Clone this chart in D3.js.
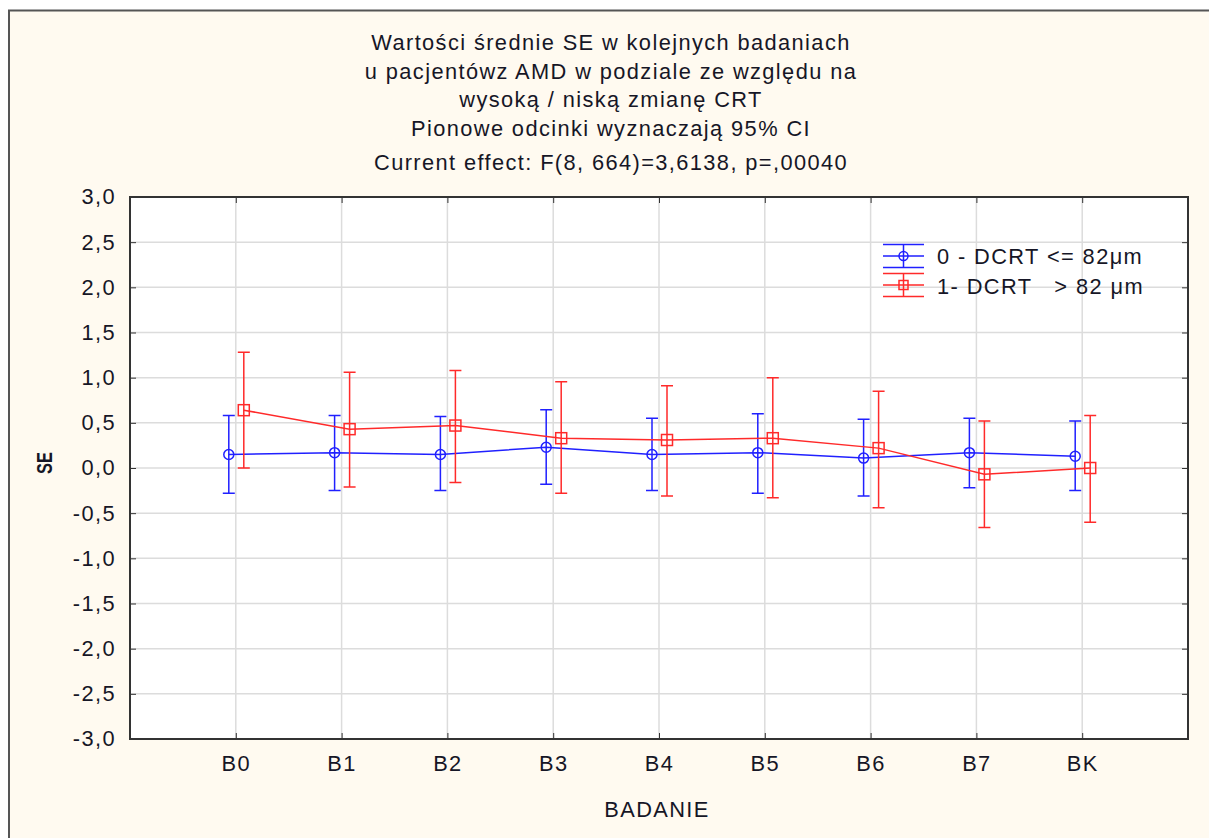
<!DOCTYPE html>
<html><head><meta charset="utf-8">
<script src="https://cdn.jsdelivr.net/npm/d3@7/dist/d3.min.js"></script>
<style>
body{margin:0;background:#fff;}
text{font-family:"Liberation Sans",Arial,sans-serif;fill:#161626;}
</style></head><body>
<svg id="c" width="1212" height="838"></svg>
<script>
const categories = ["B0","B1","B2","B3","B4","B5","B6","B7","BK"];
const seriesNames = ["0 - DCRT <= 82\u03bcm","1- DCRT   > 82 \u03bcm"];
const blueMean  = [0.15, 0.17, 0.15, 0.23, 0.15, 0.17, 0.11, 0.17, 0.13];
const blueUpper = [0.58, 0.58, 0.57, 0.645, 0.55, 0.60, 0.54, 0.55, 0.52];
const blueLower = [-0.28, -0.25, -0.25, -0.18, -0.25, -0.28, -0.31, -0.22, -0.25];
const redMean   = [0.64, 0.43, 0.47, 0.33, 0.31, 0.33, 0.22, -0.07, 0.00];
const redUpper  = [1.28, 1.06, 1.08, 0.955, 0.91, 1.00, 0.85, 0.52, 0.58];
const redLower  = [0.00, -0.21, -0.16, -0.28, -0.31, -0.33, -0.44, -0.66, -0.60];
const yTicks = [3,2.5,2,1.5,1,0.5,0,-0.5,-1,-1.5,-2,-2.5,-3];
const titleLines = ["Wartości średnie SE w kolejnych badaniach","u pacjentówz AMD w podziale ze względu na","wysoką / niską zmianę CRT","Pionowe odcinki wyznaczają 95% CI"];
const effectLine = "Current effect: F(8, 664)=3,6138, p=,00040";

const FS = 21.8, LS = 1.4;
const svg = d3.select("#c");
svg.append("rect").attr("x",9).attr("y",10).attr("width",1200).attr("height",830).attr("fill","#fffaf0");
svg.append("path").attr("d","M9,840V10.5H1209").attr("fill","none").attr("stroke","#555").attr("stroke-width",2);

const L=130,T=197,R=1188,B=739;
const x = d3.scalePoint().domain(categories).range([L,R]).padding(1);
const y = d3.scaleLinear().domain([-3,3]).range([B,T]);

svg.append("rect").attr("x",L).attr("y",T).attr("width",R-L).attr("height",B-T).attr("fill","#fff");
const g = svg.append("g");
g.selectAll(".hg").data(yTicks).join("line").attr("x1",L).attr("x2",R)
 .attr("y1",d=>y(d)).attr("y2",d=>y(d)).attr("stroke","#dcdcdc").attr("stroke-width",1.5);
g.selectAll(".vg").data(categories).join("line").attr("y1",T).attr("y2",B)
 .attr("x1",d=>x(d)).attr("x2",d=>x(d)).attr("stroke","#dcdcdc").attr("stroke-width",1.5);

function styleText(sel){ sel.attr("font-size",FS).attr("fill","#161626").style("letter-spacing",LS+"px").style("font-family","Liberation Sans, Arial"); }
const fmt = d=>d3.format(".1f")(d).replace(".",",").replace("\u2212","-");
const ya = svg.append("g").attr("transform",`translate(${L},0)`).call(d3.axisLeft(y).tickValues(yTicks).tickSize(-6).tickPadding(14).tickFormat(fmt));
ya.select(".domain").remove(); ya.selectAll("line").attr("stroke","#333");
ya.selectAll("text").call(styleText);
const yr = svg.append("g").attr("transform",`translate(${R},0)`).call(d3.axisRight(y).tickValues(yTicks).tickSize(-6).tickFormat(""));
yr.select(".domain").remove(); yr.selectAll("line").attr("stroke","#333");
const xb = svg.append("g").attr("transform",`translate(0,${B})`).call(d3.axisBottom(x).tickSize(-6).tickPadding(17));
xb.select(".domain").remove(); xb.selectAll("line").attr("stroke","#333");
xb.selectAll("text").call(styleText);
const xt = svg.append("g").attr("transform",`translate(0,${T})`).call(d3.axisTop(x).tickSize(-6).tickFormat(""));
xt.select(".domain").remove(); xt.selectAll("line").attr("stroke","#333");
svg.append("rect").attr("x",L).attr("y",T).attr("width",R-L).attr("height",B-T).attr("fill","none").attr("stroke","#333").attr("stroke-width",2);

titleLines.forEach((t,i)=>svg.append("text").attr("x",611).attr("y",50+i*28.5).attr("text-anchor","middle").call(styleText).text(t));
svg.append("text").attr("x",611).attr("y",170).attr("text-anchor","middle").call(styleText).text(effectLine);
svg.append("text").attr("transform","translate(52,463) rotate(-90)").attr("text-anchor","middle").attr("font-size",22).attr("font-weight","bold")
  .attr("textLength",22).attr("lengthAdjust","spacingAndGlyphs").text("SE");
svg.append("text").attr("x",657).attr("y",817).attr("text-anchor","middle").call(styleText).text("BADANIE");

function drawSeries(mean, up, lo, color, off, marker){
  const gs = svg.append("g");
  const pts = categories.map((c,i)=>({x:x(c)+off, m:mean[i], u:up[i], l:lo[i]}));
  gs.append("path").attr("d", d3.line().x(d=>d.x).y(d=>y(d.m))(pts)).attr("fill","none").attr("stroke",color).attr("stroke-width",1.5);
  gs.selectAll(".eb").data(pts).join("path")
    .attr("d",d=>`M${d.x},${y(d.u)}V${y(d.l)}M${d.x-6},${y(d.u)}H${d.x+6}M${d.x-6},${y(d.l)}H${d.x+6}`)
    .attr("stroke",color).attr("stroke-width",1.5).attr("fill","none");
  if(marker==="circle"){
    gs.selectAll(".mk").data(pts).join("circle").attr("cx",d=>d.x).attr("cy",d=>y(d.m)).attr("r",5)
      .attr("fill","none").attr("stroke",color).attr("stroke-width",1.5);
  } else {
    gs.selectAll(".mk").data(pts).join("rect").attr("x",d=>d.x-5.5).attr("y",d=>y(d.m)-5.5).attr("width",11).attr("height",11)
      .attr("fill","none").attr("stroke",color).attr("stroke-width",1.5);
  }
}
drawSeries(blueMean, blueUpper, blueLower, "#2020ff", -7, "circle");
drawSeries(redMean, redUpper, redLower, "#ff2a2a", 8, "square");

const leg = [{c:"#2020ff",m:"circle",y:256,ty:264,t:seriesNames[0]},{c:"#ff2a2a",m:"square",y:285,ty:294,t:seriesNames[1]}];
leg.forEach(d=>{
  const lg = svg.append("g");
  lg.append("path").attr("d",`M883,${d.y-11.5}H924M883,${d.y}H924M883,${d.y+11.5}H924M903.5,${d.y-11.5}V${d.y+11.5}`)
    .attr("stroke",d.c).attr("stroke-width",1.5).attr("fill","none");
  if(d.m==="circle") lg.append("circle").attr("cx",903.5).attr("cy",d.y).attr("r",4.5).attr("fill","none").attr("stroke",d.c).attr("stroke-width",1.5);
  else lg.append("rect").attr("x",899).attr("y",d.y-4.5).attr("width",9).attr("height",9).attr("fill","none").attr("stroke",d.c).attr("stroke-width",1.5);
  lg.append("text").attr("x",937).attr("y",d.ty).call(styleText).style("white-space","pre").attr("xml:space","preserve").text(d.t);
});
</script></body></html>
